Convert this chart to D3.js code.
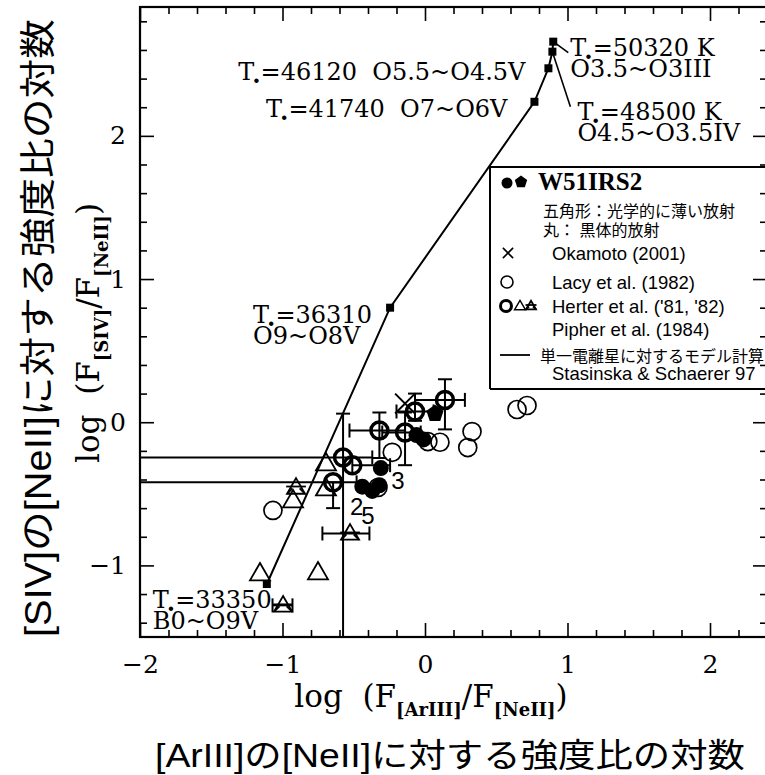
<!DOCTYPE html>
<html><head><meta charset="utf-8">
<script src="https://cdn.jsdelivr.net/npm/d3@7"></script>
<style>body{margin:0;background:#fff;} svg{display:block} text{white-space:pre}</style>
</head><body><svg id="c" width="765" height="775"></svg>
<script>
// ---------- data ----------
const modelX = [-1.11, -0.245, 0.768, 0.866, 0.894, 0.90];
const modelY = [-1.13, 0.80, 2.238, 2.472, 2.588, 2.658];
const modelLine1 = ["33350", "36310", "41740", "46120", "48500", "50320"];
const modelLine1Suffix = ["", "", "  O7~O6V", "  O5.5~O4.5V", " K", " K"];
const modelLine2 = ["B0~O9V", "O9~O8V", "", "", "O4.5~O3.5IV", "O3.5~O3III"];

const herterX   = [0.14, -0.07, -0.32, -0.14, -0.575, -0.645, -0.51];
const herterY   = [0.156, 0.075, -0.058, -0.072, -0.246, -0.42, -0.30];
const herterXLo = [-0.07, -0.20, -0.53, -0.30, -2.2, -2.2, -0.51];
const herterXHi = [0.28, 0.06, -0.14, -0.03, -0.37, -0.48, -0.245];
const herterYLo = [-0.05, 0.01, -0.25, -0.30, -1.7, -0.60, -0.30];
const herterYHi = [0.30, 0.20, 0.068, 0.068, 0.06, -0.42, -0.30];

const triX = [-0.926, -1.158, -0.751, -0.695, -0.695];
const triY = [-0.546, -1.056, -1.049, -0.288, -0.463];

const pipherX   = [-0.905, -0.526, -0.996];
const pipherY   = [-0.456, -0.777, -1.279];
const pipherXLo = [-0.905, -0.72, -1.07];
const pipherXHi = [-0.905, -0.39, -0.93];

const lacyX = [-1.067, 0.646, 0.716, 0.33, 0.30, 0.105, 0.02, -0.23, -0.33];
const lacyY = [-0.616, 0.089, 0.117, -0.065, -0.177, -0.14, -0.135, -0.21, -0.456];

const okamotoX = [-0.14];
const okamotoY = [0.13];

const w51CircX = [-0.06, -0.01, -0.31, -0.44, -0.37, -0.32];
const w51CircY = [-0.09, -0.12, -0.32, -0.45, -0.48, -0.44];
const w51PentX = [0.07];
const w51PentY = [0.06];

const w51Labels = ["3", "2", "5"];
const w51LabelX = [-0.19, -0.48, -0.40];
const w51LabelY = [-0.41, -0.59, -0.65];

const xMajorTicks = [-2, -1, 0, 1, 2];
const yMajorTicks = [-1, 0, 1, 2];

// ---------- setup ----------
const svg = d3.select("#c");
const m = {l: 140, t: 7, w: 627, h: 630};
const x = d3.scaleLinear().domain([-2, 2.4]).range([m.l, m.l + m.w]);
const y = d3.scaleLinear().domain([-1.5, 2.9]).range([m.t + m.h, m.t]);
const SERIF = "'DejaVu Serif', serif";
const SANS = "'Liberation Sans', Arial, 'Noto Sans CJK JP', sans-serif";
const JP = "'Liberation Sans', 'Noto Sans CJK JP', sans-serif";

svg.append("rect").attr("width", 765).attr("height", 775).attr("fill", "#fff");

const isMajor = v => Math.abs(v - Math.round(v)) < 1e-6;
const xMinor = d3.range(-2, 2.41, 0.2).filter(v => !isMajor(v));
const yMinor = d3.range(-1.4, 2.91, 0.2).filter(v => !isMajor(v));
const fmt = d3.format("d");

function styleAxis(g) {
  g.select(".domain").remove();
  g.selectAll("line").attr("stroke", "#000").attr("stroke-width", 1.6);
  g.selectAll("text").attr("font-family", SERIF).attr("font-size", 25).attr("fill", "#000");
}
const bottomY = y(-1.5), topY = y(2.9), leftX = x(-2), rightX = x(2.4);

svg.append("g").attr("transform", `translate(0,${bottomY})`)
  .call(d3.axisBottom(x).tickValues(xMajorTicks).tickSizeInner(-14).tickSizeOuter(0).tickPadding(18).tickFormat(fmt)).call(styleAxis);
svg.append("g").attr("transform", `translate(0,${bottomY})`)
  .call(d3.axisBottom(x).tickValues(xMinor).tickSizeInner(-7).tickSizeOuter(0).tickFormat("")).call(styleAxis);
svg.append("g").attr("transform", `translate(0,${topY})`)
  .call(d3.axisTop(x).tickValues(xMajorTicks).tickSizeInner(-14).tickSizeOuter(0).tickFormat("")).call(styleAxis);
svg.append("g").attr("transform", `translate(0,${topY})`)
  .call(d3.axisTop(x).tickValues(xMinor).tickSizeInner(-7).tickSizeOuter(0).tickFormat("")).call(styleAxis);
svg.append("g").attr("transform", `translate(${leftX},0)`)
  .call(d3.axisLeft(y).tickValues(yMajorTicks).tickSizeInner(-14).tickSizeOuter(0).tickPadding(14).tickFormat(fmt)).call(styleAxis);
svg.append("g").attr("transform", `translate(${leftX},0)`)
  .call(d3.axisLeft(y).tickValues(yMinor).tickSizeInner(-7).tickSizeOuter(0).tickFormat("")).call(styleAxis);
svg.append("g").attr("transform", `translate(${rightX},0)`)
  .call(d3.axisRight(y).tickValues(yMajorTicks).tickSizeInner(-14).tickSizeOuter(0).tickFormat("")).call(styleAxis);
svg.append("g").attr("transform", `translate(${rightX},0)`)
  .call(d3.axisRight(y).tickValues(yMinor).tickSizeInner(-7).tickSizeOuter(0).tickFormat("")).call(styleAxis);

svg.append("rect").attr("x", leftX).attr("y", topY).attr("width", rightX - leftX).attr("height", bottomY - topY)
  .attr("fill", "none").attr("stroke", "#000").attr("stroke-width", 2.2);

svg.append("clipPath").attr("id", "clip").append("rect")
  .attr("x", leftX).attr("y", topY).attr("width", rightX - leftX).attr("height", bottomY - topY);
const plot = svg.append("g").attr("clip-path", "url(#clip)");

// ---------- model line ----------
const modelPts = modelX.map((v, i) => [v, modelY[i]]);
plot.append("path").datum(modelPts)
  .attr("d", d3.line().x(d => x(d[0])).y(d => y(d[1])))
  .attr("fill", "none").attr("stroke", "#000").attr("stroke-width", 2);
plot.selectAll(".msq").data(modelPts).join("rect")
  .attr("x", d => x(d[0]) - 4).attr("y", d => y(d[1]) - 4).attr("width", 8).attr("height", 8).attr("fill", "#000");

// annotations for model points
function tLabel(sel, num, suffix) {
  sel.append("tspan").text("T");
  sel.append("tspan").attr("font-weight", "bold").attr("dy", 3).attr("dx", -2).text(".");
  sel.append("tspan").attr("dy", -3).text("=" + num + suffix);
}
const annOff = [
  {dx: -114, dy: 24, anchor: "start"},
  {dx: -137, dy: 15, anchor: "start"},
  {dx: -27, dy: 15, anchor: "end"},
  {dx: -23, dy: 12, anchor: "end"},
  {dx: 25, dy: 68, anchor: "start", lead: [18, 55]},
  {dx: 17, dy: 14, anchor: "start", lead: [15, 11]}
];
modelPts.forEach((d, i) => {
  const px = x(d[0]), py = y(d[1]), o = annOff[i];
  const t = svg.append("text").attr("x", px + o.dx).attr("y", py + o.dy)
    .attr("font-family", SERIF).attr("font-size", 24).attr("text-anchor", o.anchor);
  tLabel(t, modelLine1[i], modelLine1Suffix[i]);
  if (modelLine2[i]) {
    svg.append("text").attr("x", px + o.dx).attr("y", py + o.dy + 21)
      .attr("font-family", SERIF).attr("font-size", 24).attr("text-anchor", o.anchor).text(modelLine2[i]);
  }
  if (o.lead) {
    svg.append("line").attr("x1", px).attr("y1", py).attr("x2", px + o.lead[0]).attr("y2", py + o.lead[1])
      .attr("stroke", "#000").attr("stroke-width", 1.6);
  }
});

// ---------- symbols ----------
function pentagonPath(cx, cy, r) {
  const pts = d3.range(5).map(k => {
    const a = -Math.PI / 2 + k * 2 * Math.PI / 5;
    return [cx + r * Math.cos(a), cy + r * Math.sin(a)];
  });
  return "M" + pts.map(p => p.join(",")).join("L") + "Z";
}
function triPath(cx, cy, s) {
  const h = s * 0.866;
  return `M${cx},${cy - h * 0.6}L${cx + s / 2},${cy + h * 0.4}L${cx - s / 2},${cy + h * 0.4}Z`;
}
function pipherSym(g, cx, cy, s) {
  g.append("path").attr("d", triPath(cx, cy, s)).attr("fill", "none").attr("stroke", "#000").attr("stroke-width", 1.8);
  g.append("line").attr("x1", cx - s * 0.55).attr("x2", cx + s * 0.55).attr("y1", cy - 1).attr("y2", cy - 1)
    .attr("stroke", "#000").attr("stroke-width", 1.8);
  g.append("path").attr("d", `M${cx - s * 0.5},${cy + s * 0.35}L${cx - s * 0.2},${cy + s * 0.05}M${cx + s * 0.5},${cy + s * 0.35}L${cx + s * 0.2},${cy + s * 0.05}`)
    .attr("stroke", "#000").attr("stroke-width", 1.8).attr("fill", "none");
}
function errBar(g, x1, y1, x2, y2, capH) {
  g.append("line").attr("x1", x1).attr("y1", y1).attr("x2", x2).attr("y2", y2).attr("stroke", "#000").attr("stroke-width", 2);
  if (capH) {
    [[x1, y1], [x2, y2]].forEach(p => {
      if (y1 === y2) g.append("line").attr("x1", p[0]).attr("x2", p[0]).attr("y1", p[1] - 7).attr("y2", p[1] + 7).attr("stroke", "#000").attr("stroke-width", 2);
      else g.append("line").attr("x1", p[0] - 7).attr("x2", p[0] + 7).attr("y1", p[1]).attr("y2", p[1]).attr("stroke", "#000").attr("stroke-width", 2);
    });
  }
}

// Lacy open circles
lacyX.forEach((v, i) => {
  plot.append("circle").attr("cx", x(v)).attr("cy", y(lacyY[i])).attr("r", 9)
    .attr("fill", "none").attr("stroke", "#000").attr("stroke-width", 1.7);
});

// W51IRS2 filled
w51CircX.forEach((v, i) => {
  plot.append("circle").attr("cx", x(v)).attr("cy", y(w51CircY[i])).attr("r", 8).attr("fill", "#000");
});
w51PentX.forEach((v, i) => {
  plot.append("path").attr("d", pentagonPath(x(v), y(w51PentY[i]), 9)).attr("fill", "#000");
});
w51Labels.forEach((s, i) => {
  plot.append("text").attr("x", x(w51LabelX[i])).attr("y", y(w51LabelY[i])).attr("dy", "0.35em")
    .attr("text-anchor", "middle").attr("font-family", SANS).attr("font-size", 24).text(s);
});

// Herter triangles
triX.forEach((v, i) => {
  plot.append("path").attr("d", triPath(x(v), y(triY[i]), 20)).attr("fill", "none").attr("stroke", "#000").attr("stroke-width", 1.8);
});

// Pipher
pipherX.forEach((v, i) => {
  const g = plot.append("g");
  const cy = y(pipherY[i]);
  if (pipherXLo[i] !== pipherXHi[i]) errBar(g, x(pipherXLo[i]), cy, x(pipherXHi[i]), cy, true);
  pipherSym(g, x(v), cy, 18);
});

// Herter bold circles with error bars
herterX.forEach((v, i) => {
  const g = plot.append("g");
  const cx = x(v), cy = y(herterY[i]);
  if (herterXLo[i] !== herterXHi[i]) errBar(g, x(herterXLo[i]), cy, x(herterXHi[i]), cy, true);
  if (herterYLo[i] !== herterYHi[i]) errBar(g, cx, y(herterYLo[i]), cx, y(herterYHi[i]), true);
  g.append("circle").attr("cx", cx).attr("cy", cy).attr("r", 8.5).attr("fill", "none").attr("stroke", "#000").attr("stroke-width", 3.5);
});

// Okamoto crosses
okamotoX.forEach((v, i) => {
  plot.append("path").attr("d", d3.symbol(d3.symbolX, 260)()).attr("transform", `translate(${x(v)},${y(okamotoY[i])})`)
    .attr("fill", "none").attr("stroke", "#000").attr("stroke-width", 2);
});

// ---------- legend ----------
const L = svg.append("g");
L.append("path").attr("d", "M490,389V167H770").attr("fill", "none").attr("stroke", "#000").attr("stroke-width", 2);
L.append("path").attr("d", "M490,389H770").attr("fill", "none").attr("stroke", "#000").attr("stroke-width", 2);
L.append("circle").attr("cx", 507).attr("cy", 183).attr("r", 5.5).attr("fill", "#000");
L.append("path").attr("d", pentagonPath(521, 182, 6.5)).attr("fill", "#000");
L.append("text").attr("x", 538).attr("y", 190).attr("font-family", "'Liberation Serif', serif").attr("font-weight", "bold").attr("font-size", 25).text("W51IRS2");
L.append("text").attr("x", 543).attr("y", 217).attr("font-family", JP).attr("font-size", 16).text("五角形：光学的に薄い放射");
L.append("text").attr("x", 543).attr("y", 236).attr("font-family", JP).attr("font-size", 16).text("丸： 黒体的放射");
L.append("path").attr("d", d3.symbol(d3.symbolX, 70)()).attr("transform", "translate(508,253)").attr("stroke", "#000").attr("stroke-width", 1.6);
L.append("text").attr("x", 552).attr("y", 260).attr("font-family", SANS).attr("font-size", 18.5).text("Okamoto (2001)");
L.append("circle").attr("cx", 507).attr("cy", 282).attr("r", 6).attr("fill", "none").attr("stroke", "#000").attr("stroke-width", 1.6);
L.append("text").attr("x", 552).attr("y", 289).attr("font-family", SANS).attr("font-size", 18.5).text("Lacy et al. (1982)");
L.append("circle").attr("cx", 506).attr("cy", 306).attr("r", 5.5).attr("fill", "none").attr("stroke", "#000").attr("stroke-width", 3);
L.append("path").attr("d", triPath(520, 306, 11)).attr("fill", "none").attr("stroke", "#000").attr("stroke-width", 1.4);
pipherSym(L, 531, 306, 10);
L.append("text").attr("x", 552).attr("y", 313).attr("font-family", SANS).attr("font-size", 18.5).text("Herter et al. ('81, '82)");
L.append("text").attr("x", 552).attr("y", 336).attr("font-family", SANS).attr("font-size", 18.5).text("Pipher et al. (1984)");
L.append("line").attr("x1", 500).attr("x2", 530).attr("y1", 355).attr("y2", 355).attr("stroke", "#000").attr("stroke-width", 1.8);
L.append("text").attr("x", 540).attr("y", 362).attr("font-family", JP).attr("font-size", 16).text("単一電離星に対するモデル計算");
L.append("text").attr("x", 552).attr("y", 380).attr("font-family", SANS).attr("font-size", 18.5).text("Stasinska & Schaerer 97");

// ---------- axis titles ----------
function sciTitle(t, a, b) {
  t.append("tspan").text("log  (F");
  t.append("tspan").attr("font-size", 18).attr("font-weight", "bold").attr("dy", 9).text(a);
  t.append("tspan").attr("dy", -9).text("/F");
  t.append("tspan").attr("font-size", 18).attr("font-weight", "bold").attr("dy", 9).text(b);
  t.append("tspan").attr("dy", -9).text(")");
}
const xt = svg.append("text").attr("x", 431).attr("y", 707).attr("text-anchor", "middle")
  .attr("font-family", SERIF).attr("font-size", 31);
sciTitle(xt, "[ArIII]", "[NeII]");
const yt = svg.append("text").attr("transform", "translate(99,333) rotate(-90)").attr("text-anchor", "middle")
  .attr("font-family", SERIF).attr("font-size", 31);
sciTitle(yt, "[SIV]", "[NeII]");

svg.append("text").attr("x", 450).attr("y", 767).attr("text-anchor", "middle")
  .attr("font-family", JP).attr("font-size", 33).attr("textLength", 590).attr("lengthAdjust", "spacingAndGlyphs")
  .text("[ArIII]の[NeII]に対する強度比の対数");
svg.append("text").attr("transform", "translate(51,328) rotate(-90)").attr("text-anchor", "middle")
  .attr("font-family", JP).attr("font-size", 36).attr("textLength", 618).attr("lengthAdjust", "spacingAndGlyphs")
  .text("[SIV]の[NeII]に対する強度比の対数");
</script></body></html>
